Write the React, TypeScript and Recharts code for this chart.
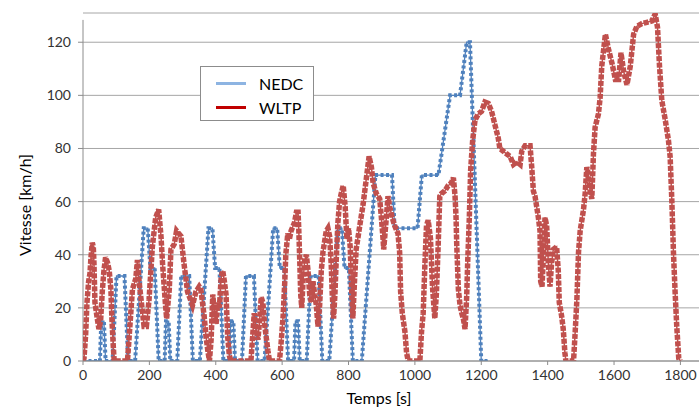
import { CartesianGrid, Label, Line, LineChart, ReferenceLine, XAxis, YAxis } from "recharts";

// NEDC breakpoints (s, km/h)
const nedcTime = [
  0, 51, 55, 63, 68, 89, 101, 125, 136, 157, 183, 195, 203, 216, 228,
  246, 250, 258, 263, 284, 296, 320, 331, 352, 378, 390, 398, 411, 423,
  441, 445, 453, 458, 479, 491, 515, 526, 547, 573, 585, 593, 606, 618,
  636, 640, 648, 653, 674, 686, 710, 721, 742, 768, 780, 788, 801, 813,
  840, 881, 931, 939, 1008, 1021, 1071, 1106, 1136, 1156, 1166, 1200, 1220,
];
const nedcSpeed = [
  0, 0, 15, 15, 0, 0, 32, 32, 0, 0, 50, 50, 35, 35, 0,
  0, 15, 15, 0, 0, 32, 32, 0, 0, 50, 50, 35, 35, 0,
  0, 15, 15, 0, 0, 32, 32, 0, 0, 50, 50, 35, 35, 0,
  0, 15, 15, 0, 0, 32, 32, 0, 0, 50, 50, 35, 35, 0,
  0, 70, 70, 50, 50, 70, 70, 100, 100, 120, 120, 0, 0,
];

// WLTP points (s, km/h)
const wltpTime = [
  0, 3, 8, 12, 17, 21, 24, 28, 31, 33, 36, 43, 48, 53, 58, 63, 68, 74, 79, 84, 87, 91, 94,
  134, 139, 144, 149, 159, 164, 169, 176, 184, 191, 199, 209, 219, 228, 235, 240, 248, 252,
  260, 265, 275, 282, 295, 305, 315, 330, 340, 350, 355, 365, 370, 376, 381, 386, 391, 396,
  401, 406, 411, 416, 421, 426, 431, 436, 441, 446, 506, 511, 516, 521, 527, 532, 537, 542,
  547, 552, 557, 562, 592,
  597, 603, 608, 611, 617, 622, 627, 637, 643, 648, 650, 653, 656, 659, 663, 668, 673, 678,
  683, 688, 693, 698, 703, 708, 713, 718, 723, 728, 733, 738, 743, 748, 751, 755, 759, 763,
  768, 773, 778, 784, 790, 795, 800, 805, 810, 813, 818, 823, 834, 844, 854, 862, 869, 874,
  884, 894, 899, 904, 906, 914, 919, 924, 934, 939, 949, 954, 957, 962, 970, 975, 980, 1015,
  1020, 1025, 1030, 1035, 1040, 1047, 1053, 1057, 1060, 1065, 1070, 1075, 1080, 1090, 1100,
  1110, 1116, 1121, 1124, 1126, 1131, 1136, 1141, 1146, 1151, 1156, 1159, 1164, 1168, 1174,
  1181, 1191, 1201, 1211, 1221, 1231, 1241, 1251, 1256, 1266, 1276, 1287, 1297, 1307, 1317,
  1322, 1332, 1347, 1352, 1357, 1362, 1367, 1372, 1377, 1379, 1383, 1387, 1392, 1397, 1402,
  1407, 1412, 1417, 1427, 1432, 1435, 1442, 1447, 1452, 1455, 1478,
  1483, 1488, 1493, 1498, 1508, 1513, 1518, 1523, 1528, 1533, 1538, 1543, 1553, 1558, 1563,
  1574, 1584, 1594, 1604, 1614, 1621, 1629, 1639, 1649, 1659, 1669, 1684, 1699, 1714, 1724,
  1731, 1737, 1744, 1754, 1764, 1769, 1774, 1779, 1784, 1789, 1795, 1800,
];
const wltpSpeed = [
  0, 1, 10, 22, 30, 33, 39, 44.5, 43, 37, 22, 16, 12, 15, 26, 34, 39, 37, 34, 27, 16, 6, 0,
  0, 9, 18, 27, 31, 38, 30, 22, 13, 13, 23, 43, 54, 57, 47, 36, 22, 16,
  27, 42, 44, 49, 47, 36, 26, 21, 26, 28, 27, 17, 10, 4, 0, 8, 25, 18,
  14, 22, 20, 31, 34, 30, 25, 9, 2, 0, 0, 9, 18, 12, 8, 15, 24, 22,
  14, 9, 4, 0, 0,
  7, 17, 30, 40, 48, 46, 49, 52, 56, 56, 50, 38, 25, 20, 30, 38, 40, 34,
  25, 22, 30, 25, 21, 13, 21, 34, 41, 45, 49, 50, 47, 36, 25, 16, 25, 38,
  52, 60, 63, 66, 58, 46, 50, 43, 25, 16, 30, 42, 51, 59, 69, 77, 73, 67,
  63, 61, 54, 46, 42, 54, 62, 58, 53, 51, 48, 41, 26, 18, 11, 3, 0, 0,
  11, 18, 36, 51, 53, 46, 28, 21, 16, 26, 43, 62, 63, 64, 66,
  67, 69, 62, 54, 44, 27, 21, 18, 16, 12, 24, 37, 54, 72, 83,
  90.6, 93, 94, 97.5, 97, 94, 89, 84, 80, 79, 78, 77, 74, 75, 74,
  79, 81, 81, 73, 64, 62, 58, 54, 49, 30, 28, 39, 54, 51, 37,
  28, 37, 42, 43, 34, 22, 17, 12, 3, 0, 0,
  11, 23, 41, 49, 57, 63, 73, 70, 64, 61, 78, 88, 93, 99, 111,
  123, 117, 112, 106, 106, 116, 109, 104, 111, 123, 126, 127, 127.5, 128, 130.6,
  125.6, 111, 98, 91, 83, 77, 61, 41, 26, 13, 1, 0,
];

const xTicks = [0, 200, 400, 600, 800, 1000, 1200, 1400, 1600, 1800];
const yTicks = [0, 20, 40, 60, 80, 100, 120];
const yAxisTop = 128.4;

const nedcData = nedcTime.map((t, i) => ({ t, v: nedcSpeed[i] }));
const wltpData = wltpTime.map((t, i) => ({ t, v: wltpSpeed[i] }));

const FONT = "Lato, 'Open Sans', sans-serif";
const TEXT = "#333";
const BLUE = "#4f81bd";
const RED = "#c0504d";

function ChartLegend() {
  const row = { display: "flex", alignItems: "center", height: 24 } as const;
  return (
    <div
      style={{
        position: "absolute",
        left: 200,
        top: 66,
        width: 114,
        height: 55,
        border: "1px solid #8c8c8c",
        background: "#fff",
        boxSizing: "border-box",
        padding: "4px 0 0 15px",
        fontFamily: FONT,
        fontSize: 16,
        color: "#000",
      }}
    >
      <div style={row}>
        <span style={{ width: 30, height: 3, background: "#8db4e2", marginRight: 13 }} />
        <span>NEDC</span>
      </div>
      <div style={row}>
        <span style={{ width: 30, height: 3, background: "#c00000", marginRight: 13 }} />
        <span>WLTP</span>
      </div>
    </div>
  );
}

export default function App() {
  return (
    <div
      style={{
        position: "absolute",
        left: 0,
        top: 0,
        width: 699,
        height: 411,
        background: "#fff",
        fontFamily: FONT,
      }}
    >
      <LineChart
        width={699}
        height={411}
        margin={{ top: 13, right: 0, bottom: 0, left: 0 }}
      >
        <CartesianGrid stroke="#a6a6a6" vertical={false} />
        <XAxis
          type="number"
          dataKey="t"
          domain={[0, 1856]}
          ticks={xTicks}
          allowDataOverflow
          height={50}
          stroke="#8c8c8c"
          tickSize={4}
          tickMargin={5}
          tick={{ fill: TEXT, fontSize: 14, fontFamily: FONT }}
        >
          <Label
            content={({ viewBox }: any) => (
              <text
                x={viewBox.x + viewBox.width / 2 - 12}
                y={404}
                textAnchor="middle"
                fontSize={16}
                fontFamily={FONT}
                fill="#000"
              >
                Temps [s]
              </text>
            )}
          />
        </XAxis>
        <YAxis
          type="number"
          dataKey="v"
          domain={[0, 131]}
          ticks={yTicks}
          allowDataOverflow
          width={83}
          axisLine={false}
          stroke="#8c8c8c"
          tickSize={5}
          tickMargin={7}
          tick={{ fill: TEXT, fontSize: 14, fontFamily: FONT }}
        >
          <Label
            content={({ viewBox }: any) => (
              <text
                x={24}
                y={205}
                transform="rotate(-90, 24, 205)"
                textAnchor="middle"
                dominantBaseline="central"
                fontSize={16}
                fontFamily={FONT}
                fill="#000"
              >
                Vitesse [km/h]
              </text>
            )}
          />
        </YAxis>
        <ReferenceLine
          segment={[
            { x: 0, y: 0 },
            { x: 0, y: yAxisTop },
          ]}
          stroke="#8c8c8c"
          ifOverflow="visible"
        />
        <Line
          data={nedcData}
          dataKey="v"
          type="linear"
          stroke={BLUE}
          strokeWidth={1.3}
          dot={false}
          isAnimationActive={false}
        />
        <Line
          data={nedcData}
          dataKey="v"
          type="linear"
          stroke={BLUE}
          strokeWidth={4}
          strokeDasharray="3 2.5"
          dot={false}
          isAnimationActive={false}
        />
        <Line
          data={wltpData}
          dataKey="v"
          type="linear"
          stroke={RED}
          strokeWidth={1.5}
          dot={false}
          isAnimationActive={false}
        />
        <Line
          data={wltpData}
          dataKey="v"
          type="linear"
          stroke={RED}
          strokeWidth={5.5}
          strokeDasharray="5 1.5"
          dot={false}
          isAnimationActive={false}
        />
      </LineChart>
      <ChartLegend />
    </div>
  );
}
